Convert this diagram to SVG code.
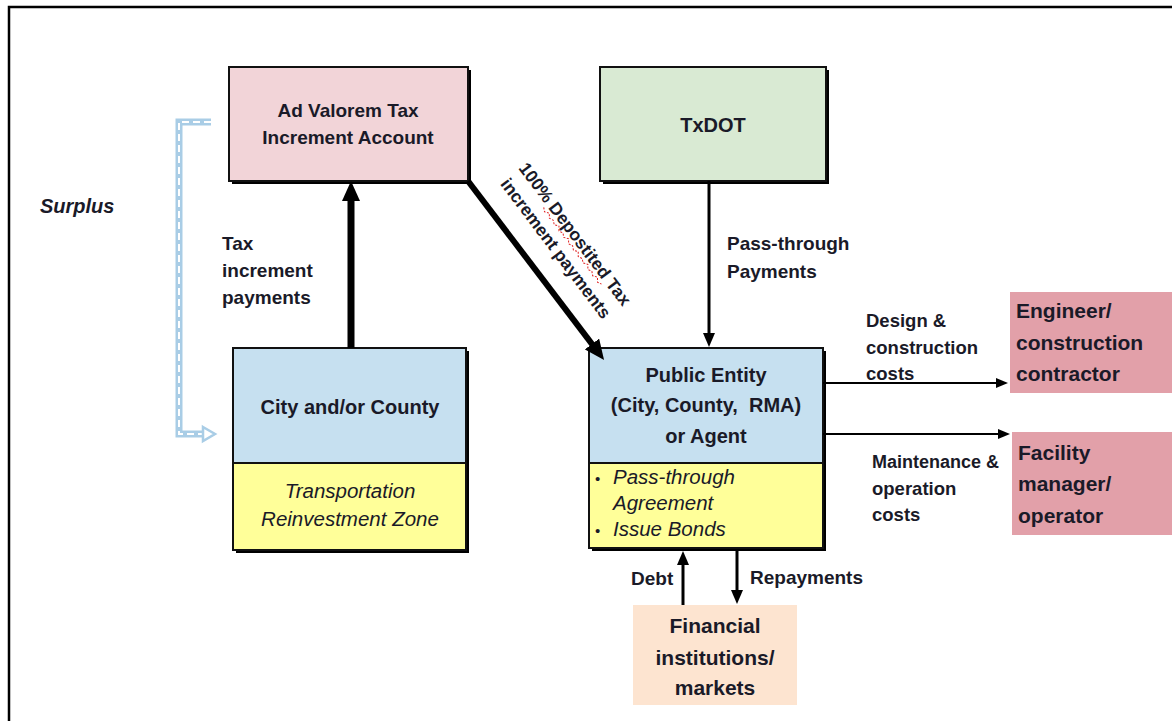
<svg xmlns="http://www.w3.org/2000/svg" width="1172" height="721" viewBox="0 0 1172 721">
<style>
  text { font-family: "Liberation Sans", Arial, sans-serif; fill: #1a1a28; }
  .nb { font-size: 20px; font-weight: bold; }
  .lb { font-size: 19px; font-weight: bold; }
  .sm { font-size: 18.5px; font-weight: bold; }
  .dg { font-size: 17.5px; font-weight: bold; }
  .big { font-size: 21px; font-weight: bold; }
  .it { font-size: 20.5px; font-style: italic; }
  .mid { text-anchor: middle; }
  .box { stroke: #111; stroke-width: 2; }
  .shadow { fill: #000; }
  .conn { stroke: #000; fill: none; }
</style>
<defs>
  <marker id="ahL" markerUnits="userSpaceOnUse" markerWidth="20" markerHeight="18" viewBox="0 0 20 18" refX="8" refY="9" orient="auto">
    <path d="M0,0 L20,9 L0,18 z" fill="#000"/>
  </marker>
  <marker id="ahM" markerUnits="userSpaceOnUse" markerWidth="14" markerHeight="12" viewBox="0 0 14 12" refX="5" refY="6" orient="auto">
    <path d="M0,0 L14,6 L0,12 z" fill="#000"/>
  </marker>
  <marker id="ahS" markerUnits="userSpaceOnUse" markerWidth="12" markerHeight="10" viewBox="0 0 12 10" refX="4" refY="5" orient="auto">
    <path d="M0,0 L12,5 L0,10 z" fill="#000"/>
  </marker>
</defs>

<rect width="1172" height="721" fill="#fff"/>
<path d="M9,721 V7 H1172" fill="none" stroke="#000" stroke-width="2.5"/>

<g id="ad-valorem">
  <rect class="shadow" x="232" y="70" width="239" height="114"/>
  <rect class="box" x="229" y="67" width="239" height="114" fill="#f2d4d8"/>
  <text class="nb mid" x="348" y="117" style="font-size:19px">Ad Valorem Tax</text>
  <text class="nb mid" x="348" y="144" style="font-size:19px">Increment Account</text>
</g>

<g id="txdot">
  <rect class="shadow" x="603" y="70" width="226" height="114"/>
  <rect class="box" x="600" y="67" width="226" height="114" fill="#d9ead3"/>
  <text class="nb mid" x="713" y="132">TxDOT</text>
</g>

<g id="city-county">
  <rect class="shadow" x="236" y="351" width="233" height="202"/>
  <rect class="box" x="233" y="348" width="233" height="115" fill="#c6e0f0"/>
  <rect class="box" x="233" y="463" width="233" height="87" fill="#ffff99"/>
  <text class="nb mid" x="350" y="414">City and/or County</text>
  <text class="it mid" x="350" y="498">Transportation</text>
  <text class="it mid" x="350" y="526">Reinvestment Zone</text>
</g>

<g id="public-entity">
  <rect class="shadow" x="592" y="351" width="234" height="200"/>
  <rect class="box" x="589" y="348" width="234" height="115" fill="#c6e0f0"/>
  <rect class="box" x="589" y="463" width="234" height="85" fill="#ffff99"/>
  <text class="nb mid" x="706" y="382">Public Entity</text>
  <text class="nb mid" x="706" y="412" xml:space="preserve">(City, County,  RMA)</text>
  <text class="nb mid" x="706" y="443">or Agent</text>
  <text x="595" y="484" style="font-size:15px">•</text>
  <text class="it" x="613" y="484">Pass-through</text>
  <text class="it" x="613" y="510">Agreement</text>
  <text x="595" y="536" style="font-size:15px">•</text>
  <text class="it" x="613" y="536">Issue Bonds</text>
</g>

<g id="engineer">
  <rect x="1010" y="292" width="162" height="101" fill="#e2a0a9"/>
  <text class="big" x="1016" y="318">Engineer/</text>
  <text class="big" x="1016" y="350">construction</text>
  <text class="big" x="1016" y="381">contractor</text>
</g>

<g id="facility">
  <rect x="1012" y="432" width="160" height="103" fill="#e2a0a9"/>
  <text class="big" x="1018" y="460">Facility</text>
  <text class="big" x="1018" y="491">manager/</text>
  <text class="big" x="1018" y="523">operator</text>
</g>

<g id="financial">
  <rect x="633" y="605" width="164" height="100" fill="#fde4d0"/>
  <text class="big mid" x="715" y="633">Financial</text>
  <text class="big mid" x="715" y="665">institutions/</text>
  <text class="big mid" x="715" y="695">markets</text>
</g>

<g id="connectors">
  <path class="conn" d="M351,348 V193" stroke-width="7" marker-end="url(#ahL)"/>
  <path class="conn" d="M468,181 L596.8,350.4" stroke-width="6" marker-end="url(#ahL)"/>
  <path class="conn" d="M709,181 V338" stroke-width="3" marker-end="url(#ahM)"/>
  <path class="conn" d="M823,383 H1000" stroke-width="2" marker-end="url(#ahS)"/>
  <path class="conn" d="M823,434 H1002" stroke-width="2" marker-end="url(#ahS)"/>
  <path class="conn" d="M683,605 V560" stroke-width="3" marker-end="url(#ahM)"/>
  <path class="conn" d="M737,550 V595" stroke-width="3" marker-end="url(#ahM)"/>
  <g id="surplus-bracket">
    <path d="M211,122 H179 V434 H205" fill="none" stroke="#a9cde6" stroke-width="7"/>
    <path d="M211,122 H179 V434 H205" fill="none" stroke="#fff" stroke-width="2" stroke-dasharray="7,4"/>
    <path d="M203,427 L215,434 L203,441 z" fill="#fff" stroke="#a9cde6" stroke-width="2.5"/>
  </g>
</g>

<g id="labels">
  <text class="lb" x="40" y="213" style="font-style:italic;font-size:20px">Surplus</text>
  <text class="lb" x="222" y="250">Tax</text>
  <text class="lb" x="222" y="277">increment</text>
  <text class="lb" x="222" y="304">payments</text>
  <text class="lb" x="727" y="250">Pass-through</text>
  <text class="lb" x="727" y="278">Payments</text>
  <text class="sm" x="866" y="327">Design &amp;</text>
  <text class="sm" x="866" y="354">construction</text>
  <text class="sm" x="866" y="380">costs</text>
  <text class="sm" x="872" y="468" style="font-size:18px">Maintenance &amp;</text>
  <text class="sm" x="872" y="495">operation</text>
  <text class="sm" x="872" y="521">costs</text>
  <text class="lb" x="631" y="585">Debt</text>
  <text class="lb" x="750" y="584">Repayments</text>
  <g transform="translate(567,240) rotate(53)">
    <text class="dg mid" x="0" y="-4">100% Depostited Tax</text>
    <text class="dg mid" x="0" y="20">increment payments</text>
    <path d="M-40,-1 l4,2 l4,-3 l4,3 l4,-2 l4,2 l4,-3 l4,3 l4,-2 l4,2 l4,-3 l4,3 l4,-2 l4,2 l4,-3 l4,3 l4,-2 l4,2 l4,-3 l4,3 l4,-2 l4,2 l4,-3 l4,3 l4,-2" fill="none" stroke="#e02020" stroke-width="1" stroke-dasharray="2,1.5"/>
  </g>
</g>
</svg>
